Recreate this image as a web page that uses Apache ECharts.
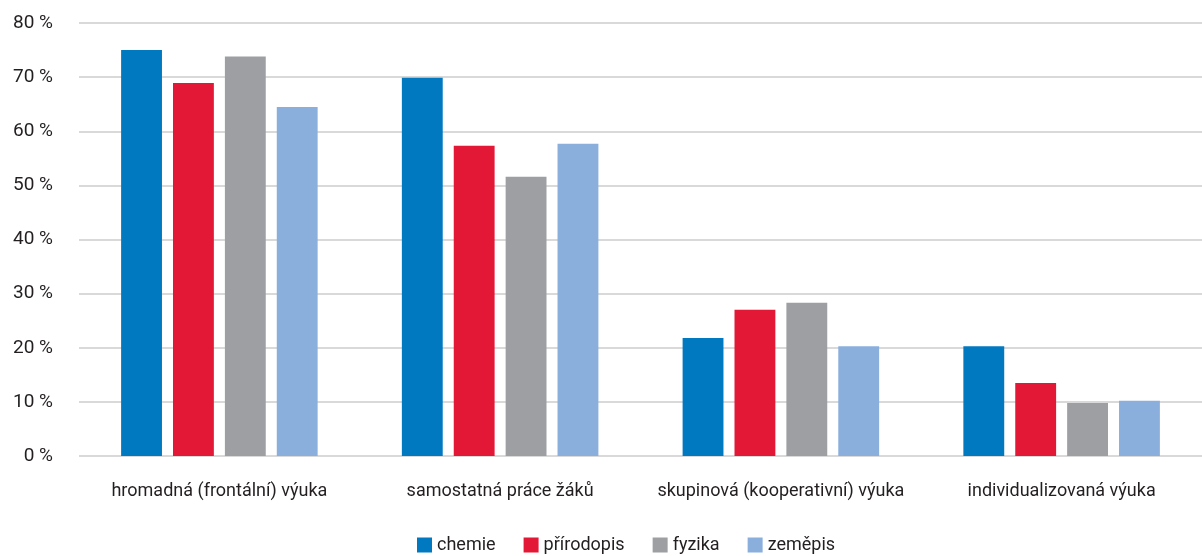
<!DOCTYPE html>
<html><head><meta charset="utf-8">
<script src="https://cdn.jsdelivr.net/npm/echarts@6/dist/echarts.min.js"></script>
<style>html,body{margin:0;padding:0;background:#fff}#c{width:1202px;height:556px}</style>
</head><body><div id="c"></div>
<script>
const categories = ['hromadná (frontální) výuka', 'samostatná práce žáků', 'skupinová (kooperativní) výuka', 'individualizovaná výuka'];
const seriesNames = ['chemie', 'přírodopis', 'fyzika', 'zeměpis'];
const chemie = [75.0, 69.9, 21.8, 20.3];
const prirodopis = [68.9, 57.3, 27.0, 13.5];
const fyzika = [73.8, 51.6, 28.3, 9.8];
const zemepis = [64.5, 57.7, 20.3, 10.2];
const colors = ['#0079C1', '#E31837', '#9D9FA2', '#8AAFDC'];
const FONT = 'Roboto, sans-serif';
const values = [chemie, prirodopis, fyzika, zemepis];
const chart = echarts.init(document.getElementById('c'));
chart.setOption({
  animation: false,
  textStyle: { fontFamily: FONT },
  color: colors,
  grid: { left: 79, right: 0, top: 23, bottom: 100, containLabel: false },
  legend: {
    bottom: -3, left: 412, itemWidth: 15, itemHeight: 15, itemGap: 28,
    icon: 'rect',
    textStyle: { fontFamily: FONT, fontSize: 18, color: '#231f20' },
    data: seriesNames
  },
  xAxis: {
    type: 'category', data: categories,
    axisLine: { show: false }, axisTick: { show: false },
    axisLabel: { fontFamily: FONT, fontSize: 18, color: '#231f20', margin: 26, interval: 0 }
  },
  yAxis: {
    type: 'value', min: 0, max: 80, interval: 10,
    axisLine: { show: false }, axisTick: { show: false },
    axisLabel: { fontFamily: FONT, fontSize: 19, color: '#231f20', margin: 26, formatter: '{value} %' },
    splitLine: { lineStyle: { color: '#d9d9d9', width: 2 } }
  },
  series: seriesNames.map((n, i) => ({
    name: n, type: 'bar', data: values[i],
    barGap: '27%', barCategoryGap: '30%',
    itemStyle: { color: colors[i] }
  }))
});
</script></body></html>
